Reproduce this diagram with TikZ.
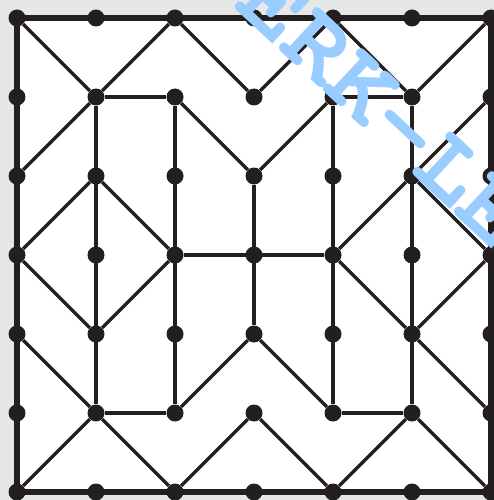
\documentclass[tikz,border=0pt]{standalone}
\usepackage{fontspec}
\newfontfamily\wmfont{texgyrecursor-bold.otf}
\definecolor{ink}{HTML}{231F20}
\definecolor{bggrey}{HTML}{E6E7E9}
\definecolor{wmblue}{HTML}{99CCFF}
\begin{document}
\begin{tikzpicture}[x=1pt,y=-1pt,
  dot/.style={circle,fill=ink,inner sep=0pt,minimum size=17pt},
  edge/.style={draw=ink,line width=3.2pt},
  frame/.style={draw=ink,line width=5.2pt,line join=miter},
  watermark/.style={text=wmblue,rotate=-43,inner sep=0pt,
    font=\wmfont\fontsize{100}{100}\selectfont}]
\path[use as bounding box,fill=bggrey] (0,0) rectangle (494,500);
\fill[white] (17,18) rectangle (491,492);
\foreach \i in {0,...,6}
  \foreach \j in {0,...,6}
    \node[dot] (p\i\j) at ({17+79*\i},{18+79*\j}) {};
\draw[frame] (p00.center) -- (p60.center) -- (p66.center) -- (p06.center) -- cycle;
% top zigzag
\draw[edge] (p00) -- (p11);
\draw[edge] (p11) -- (p20);
\draw[edge] (p20) -- (p31);
\draw[edge] (p31) -- (p40);
\draw[edge] (p40) -- (p51);
\draw[edge] (p51) -- (p60);
% row 1 horizontals
\draw[edge] (p11) -- (p21);
\draw[edge] (p41) -- (p51);
% diagonals row 1-2
\draw[edge] (p02) -- (p11);
\draw[edge] (p21) -- (p32);
\draw[edge] (p32) -- (p41);
\draw[edge] (p52) -- (p61);
% verticals
\draw[edge] (p11) -- (p15);
\draw[edge] (p21) -- (p25);
\draw[edge] (p32) -- (p34);
\draw[edge] (p41) -- (p45);
\draw[edge] (p51) -- (p55);
% diagonals row 2-3
\draw[edge] (p03) -- (p12);
\draw[edge] (p12) -- (p23);
\draw[edge] (p43) -- (p52);
\draw[edge] (p52) -- (p63);
% middle horizontal
\draw[edge] (p23) -- (p43);
% diagonals row 3-4
\draw[edge] (p03) -- (p14);
\draw[edge] (p14) -- (p23);
\draw[edge] (p43) -- (p54);
\draw[edge] (p54) -- (p63);
% diagonals row 4-5
\draw[edge] (p04) -- (p15);
\draw[edge] (p25) -- (p34);
\draw[edge] (p34) -- (p45);
\draw[edge] (p54) -- (p65);
% row 5 horizontals
\draw[edge] (p15) -- (p25);
\draw[edge] (p45) -- (p55);
% bottom zigzag
\draw[edge] (p06) -- (p15);
\draw[edge] (p15) -- (p26);
\draw[edge] (p26) -- (p35);
\draw[edge] (p35) -- (p46);
\draw[edge] (p46) -- (p55);
\draw[edge] (p55) -- (p66);
% watermark
\begin{scope}
\clip (0,0) rectangle (494,500);
\node[watermark] (wm) at (384,108) {ERK-LE};
\end{scope}
\end{tikzpicture}
\end{document}
